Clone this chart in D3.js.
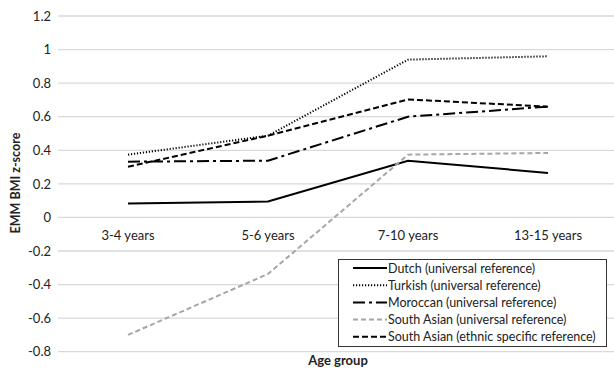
<!DOCTYPE html>
<html><head><meta charset="utf-8">
<script src="https://cdn.jsdelivr.net/npm/d3@7"></script>
<style>body{margin:0;background:#fff}svg{display:block}text{font-family:Lato,"Open Sans",sans-serif;fill:#222}</style>
</head><body><svg id="c" width="614" height="369"></svg>
<script>
const categories = ["3-4 years","5-6 years","7-10 years","13-15 years"];
const dutch = [0.083,0.095,0.338,0.265];
const turkish = [0.374,0.487,0.94,0.96];
const moroccan = [0.332,0.338,0.60,0.66];
const southAsianUniversal = [-0.70,-0.337,0.374,0.384];
const southAsianEthnic = [0.302,0.487,0.703,0.66];
const yTicks = [-0.8,-0.6,-0.4,-0.2,0,0.2,0.4,0.6,0.8,1,1.2];
const seriesNames = ["Dutch (universal reference)","Turkish (universal reference)","Moroccan (universal reference)","South Asian (universal reference)","South Asian (ethnic specific reference)"];

const series = [
  {name:seriesNames[0], values:dutch, color:"#000", width:2, dash:null},
  {name:seriesNames[1], values:turkish, color:"#000", width:2, dash:"1.2,1.8"},
  {name:seriesNames[2], values:moroccan, color:"#000", width:2, dash:"12,4,3,4"},
  {name:seriesNames[3], values:southAsianUniversal, color:"#a6a6a6", width:2, dash:"5,3"},
  {name:seriesNames[4], values:southAsianEthnic, color:"#000", width:2, dash:"6,3"}
];

const svg = d3.select("#c");
const x = d3.scaleBand().domain(categories).range([58,618]);
const y = d3.scaleLinear().domain([-0.8,1.2]).range([351.7,16]);

// gridlines
svg.append("g").selectAll("line").data(yTicks).join("line")
  .attr("x1",58).attr("x2",614).attr("y1",d=>y(d)).attr("y2",d=>y(d))
  .attr("stroke","#d9d9d9").attr("stroke-width",1.3);

// y axis labels
const yAxis = d3.axisLeft(y).tickValues(yTicks).tickSize(0).tickPadding(0)
  .tickFormat(d=>String(+d.toFixed(1)));
const gy = svg.append("g").attr("transform","translate(51,0)").call(yAxis);
gy.select(".domain").remove();
gy.selectAll("text").attr("font-size",13).attr("font-family","Lato").attr("fill","#333");

// x axis labels near zero line
const xAxis = d3.axisBottom(x).tickSize(0).tickPadding(0);
const gx = svg.append("g").attr("transform",`translate(0,${y(0)+13})`).call(xAxis);
gx.select(".domain").remove();
gx.selectAll("text").attr("font-size",13).attr("font-family","Lato").attr("fill","#333");

// lines
const line = d3.line().x((d,i)=>x(categories[i])+x.bandwidth()/2).y(d=>y(d));
svg.append("g").selectAll("path").data(series).join("path")
  .attr("d",d=>line(d.values)).attr("fill","none")
  .attr("stroke",d=>d.color).attr("stroke-width",d=>d.width)
  .attr("stroke-dasharray",d=>d.dash);

// axis titles
svg.append("text").attr("transform","translate(20,183) rotate(-90)")
  .attr("text-anchor","middle").attr("font-size",12.5).attr("font-weight","bold").text("EMM BMI z-score");
svg.append("text").attr("x",338).attr("y",365)
  .attr("text-anchor","middle").attr("font-size",13).attr("font-weight","bold").text("Age group");

// legend
const lg = svg.append("g");
lg.append("rect").attr("x",338.5).attr("y",259.5).attr("width",268).attr("height",87)
  .attr("fill","#fff").attr("stroke","#333").attr("stroke-width",1);
const items = lg.selectAll("g.it").data(series).join("g").attr("class","it")
  .attr("transform",(d,i)=>`translate(0,${268+i*17.2})`);
items.append("line").attr("x1",353).attr("x2",387).attr("y1",0).attr("y2",0)
  .attr("stroke",d=>d.color).attr("stroke-width",d=>d.width).attr("stroke-dasharray",d=>d.dash);
items.append("text").attr("x",388).attr("y",4.5).attr("font-size",12.5).attr("fill","#222").text(d=>d.name);
</script></body></html>
